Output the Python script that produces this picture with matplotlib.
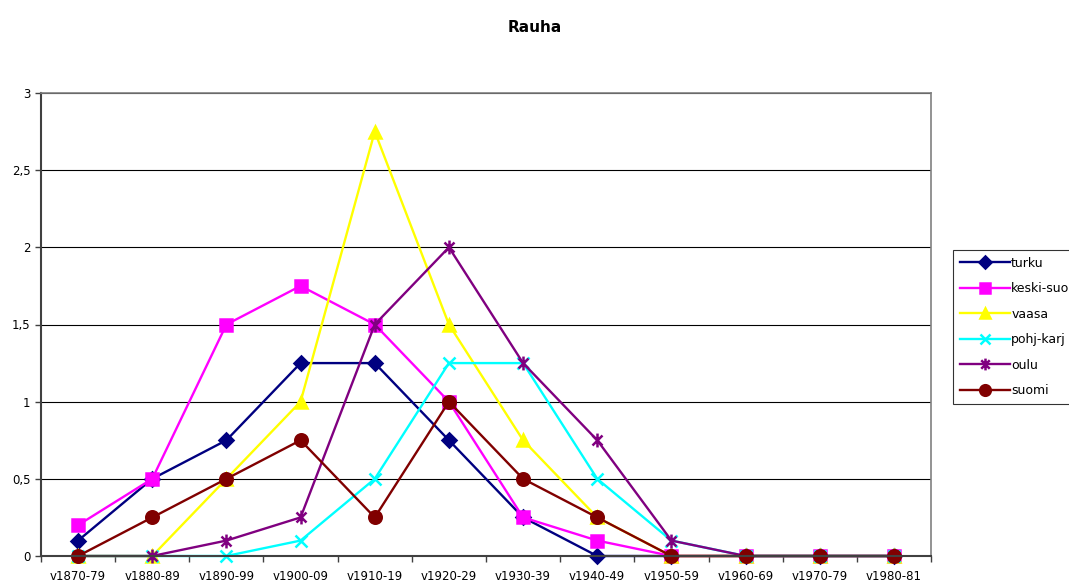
"""Rauha: line chart by region and decade."""

import matplotlib

matplotlib.use("Agg")
import matplotlib.pyplot as plt
import numpy as np
from matplotlib.path import Path

decades = ["v1870-79", "v1880-89", "v1890-99", "v1900-09", "v1910-19", "v1920-29",
           "v1930-39", "v1940-49", "v1950-59", "v1960-69", "v1970-79", "v1980-81"]

turku = [0.1, 0.5, 0.75, 1.25, 1.25, 0.75, 0.25, 0, 0, 0, 0, 0]
keski_suo = [0.2, 0.5, 1.5, 1.75, 1.5, 1.0, 0.25, 0.1, 0, 0, 0, 0]
vaasa = [0, 0, 0.5, 1.0, 2.75, 1.5, 0.75, 0.25, 0, 0, 0, 0]
pohj_karj = [0, 0, 0, 0.1, 0.5, 1.25, 1.25, 0.5, 0.1, 0, 0, 0]
oulu = [0, 0, 0.1, 0.25, 1.5, 2.0, 1.25, 0.75, 0.1, 0, 0, 0]
suomi = [0, 0.25, 0.5, 0.75, 0.25, 1.0, 0.5, 0.25, 0, 0, 0, 0]

# Excel-style star: vertical bar plus an x
star = Path(
    [(0, -1), (0, 1), (-0.72, -0.72), (0.72, 0.72), (-0.72, 0.72), (0.72, -0.72)],
    [Path.MOVETO, Path.LINETO, Path.MOVETO, Path.LINETO, Path.MOVETO, Path.LINETO],
)

SERIES = [
    ("turku", turku, "#000080", "D", 7),
    ("keski-suo", keski_suo, "#ff00ff", "s", 8.5),
    ("vaasa", vaasa, "#ffff00", "^", 8.5),
    ("pohj-karj", pohj_karj, "#00ffff", "x", 9),
    ("oulu", oulu, "#800080", star, 10),
    ("suomi", suomi, "#800000", "o", 9),
]


def main() -> None:
    fig = plt.figure(figsize=(10.69, 5.83), dpi=100)
    ax = fig.add_axes([41 / 1069, 27 / 583, 890 / 1069, 463 / 583])

    x = np.arange(len(decades))
    for name, vals, color, marker, ms in SERIES:
        ax.plot(x, vals, color=color, lw=1.7, marker=marker, ms=ms,
                mec=color, mfc=color, mew=1.8, label=name, clip_on=False)

    ax.set_xlim(-0.5, len(decades) - 0.5)
    ax.set_ylim(0, 3)
    ax.set_yticks(np.arange(0, 3.01, 0.5))
    ax.set_yticklabels(["0", "0,5", "1", "1,5", "2", "2,5", "3"], fontsize=8.5)
    ax.yaxis.grid(True, color="black", lw=0.8)
    ax.set_axisbelow(True)

    ax.set_xticks(x)
    ax.set_xticklabels(decades, fontsize=8.5)
    ax.tick_params(axis="x", length=0, pad=10)
    ax.set_xticks(np.arange(-0.5, len(decades)), minor=True)
    ax.tick_params(axis="x", which="minor", length=4, width=1, color="#404040")
    ax.tick_params(axis="y", length=4, width=1, color="#404040")

    for side in ("left", "bottom"):
        ax.spines[side].set_color("#404040")
        ax.spines[side].set_linewidth(1.5)
    for side in ("top", "right"):
        ax.spines[side].set_color("#808080")
        ax.spines[side].set_linewidth(1.2)

    fig.text(0.5, 1 - 28 / 583, "Rauha", ha="center", va="center",
             fontsize=11, fontweight="bold")

    leg = ax.legend(loc="upper left", bbox_to_anchor=(953 / 1069, 1 - 250 / 583),
                    bbox_transform=fig.transFigure, fontsize=9, frameon=True,
                    fancybox=False, edgecolor="black", borderpad=0.55,
                    labelspacing=1.0, handlelength=4.0, handletextpad=0.1,
                    borderaxespad=0, markerscale=0.85)
    leg.get_frame().set_linewidth(0.8)

    fig.savefig("out.png", dpi=100)
    plt.close(fig)


if __name__ == "__main__":
    main()
